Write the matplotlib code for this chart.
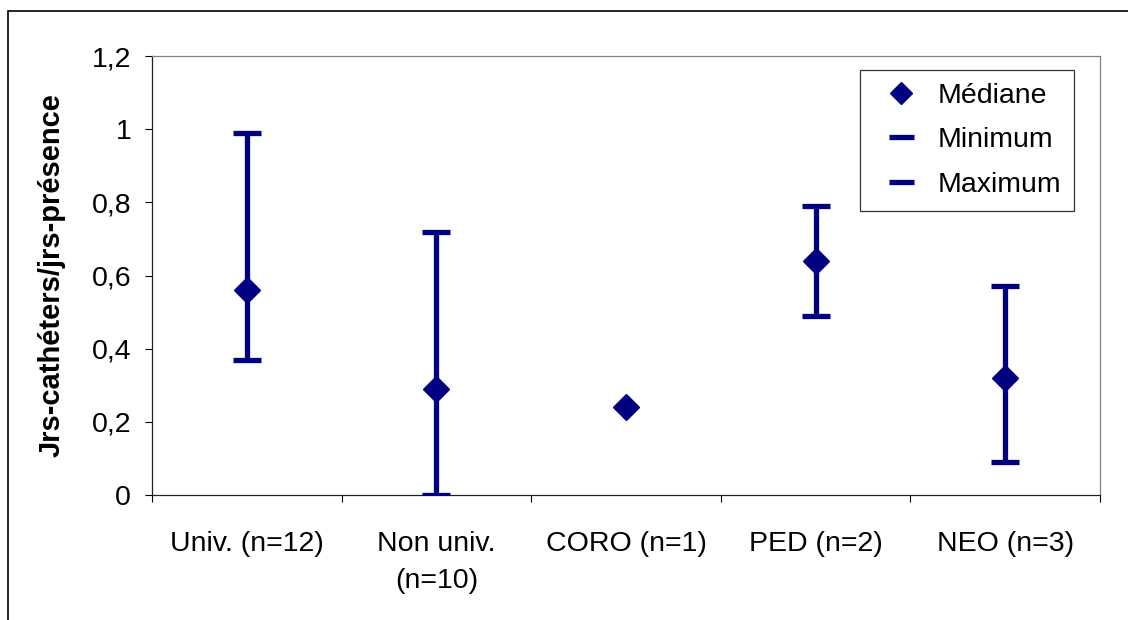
import matplotlib.pyplot as plt
import matplotlib.patches as patches
from matplotlib.lines import Line2D
import numpy as np

plt.rcParams['font.family'] = ['Liberation Sans', 'DejaVu Sans']

categories = ['Univ. (n=12)', 'Non univ.\n(n=10)', 'CORO (n=1)', 'PED (n=2)', 'NEO (n=3)']
mediane = [0.56, 0.29, 0.24, 0.64, 0.32]
minimum = [0.37, 0.0, np.nan, 0.49, 0.09]
maximum = [0.99, 0.72, np.nan, 0.79, 0.57]

navy = '#000080'

fig = plt.figure(figsize=(11.28, 6.2), dpi=100)
ax = fig.add_axes([152/1128, 125/620, 948/1128, 439/620])

x = np.arange(len(categories))

# high-low lines
ax.vlines(x, minimum, maximum, color=navy, linewidth=3.8, zorder=2)
ax.plot(x, minimum, linestyle='none', marker='_', markersize=20, markeredgewidth=3.8, color=navy, zorder=3)
ax.plot(x, maximum, linestyle='none', marker='_', markersize=20, markeredgewidth=3.8, color=navy, zorder=3)
ax.plot(x, mediane, linestyle='none', marker='D', markersize=13, color=navy, zorder=4)

ax.set_xlim(-0.5, len(categories) - 0.5)
ax.set_ylim(0, 1.2)
ax.set_yticks(np.arange(0, 1.21, 0.2))
ax.set_yticklabels(['0', '0,2', '0,4', '0,6', '0,8', '1', '1,2'], fontsize=20.5)
ax.set_xticks(x)
ax.set_xticklabels(categories, fontsize=20.5, linespacing=1.55)
ax.set_xticks(np.arange(-0.5, len(categories)), minor=True)
ax.tick_params(axis='x', which='major', length=0, pad=26)
ax.tick_params(axis='x', which='minor', length=5, width=0.8, direction='out')
ax.tick_params(axis='y', length=5, width=0.8, pad=10)

for s in ['left', 'bottom']:
    ax.spines[s].set_color('#222222')
    ax.spines[s].set_linewidth(0.9)
for s in ['top', 'right']:
    ax.spines[s].set_color('#808080')
    ax.spines[s].set_linewidth(0.9)

ax.set_ylabel('Jrs-cathéters/jrs-présence', fontsize=21, fontweight='bold')
ax.yaxis.set_label_coords(-0.0907, 0.5)

handles = [
    Line2D([], [], linestyle='none', marker='D', markersize=11, color=navy),
    Line2D([], [], linestyle='none', marker='_', markersize=18, markeredgewidth=3.8, color=navy),
    Line2D([], [], linestyle='none', marker='_', markersize=18, markeredgewidth=3.8, color=navy),
]
leg = fig.legend(handles, ['Médiane', 'Minimum', 'Maximum'], loc='upper right',
                 bbox_to_anchor=(1074/1128, 550/620), bbox_transform=fig.transFigure,
                 fontsize=20.5, frameon=True, fancybox=False, handlelength=2.0,
                 handletextpad=0.28, labelspacing=0.65, borderpad=0.45,
                 borderaxespad=0)
leg.get_frame().set_edgecolor('black')
leg.get_frame().set_linewidth(0.9)

# outer chart frame
frame = patches.Rectangle((8/1128, -0.1), 1.2, (609/620) + 0.1, transform=fig.transFigure,
                          fill=False, edgecolor='black', linewidth=1.2, clip_on=False)
fig.patches.append(frame)

fig.savefig('out.png', dpi=100)
